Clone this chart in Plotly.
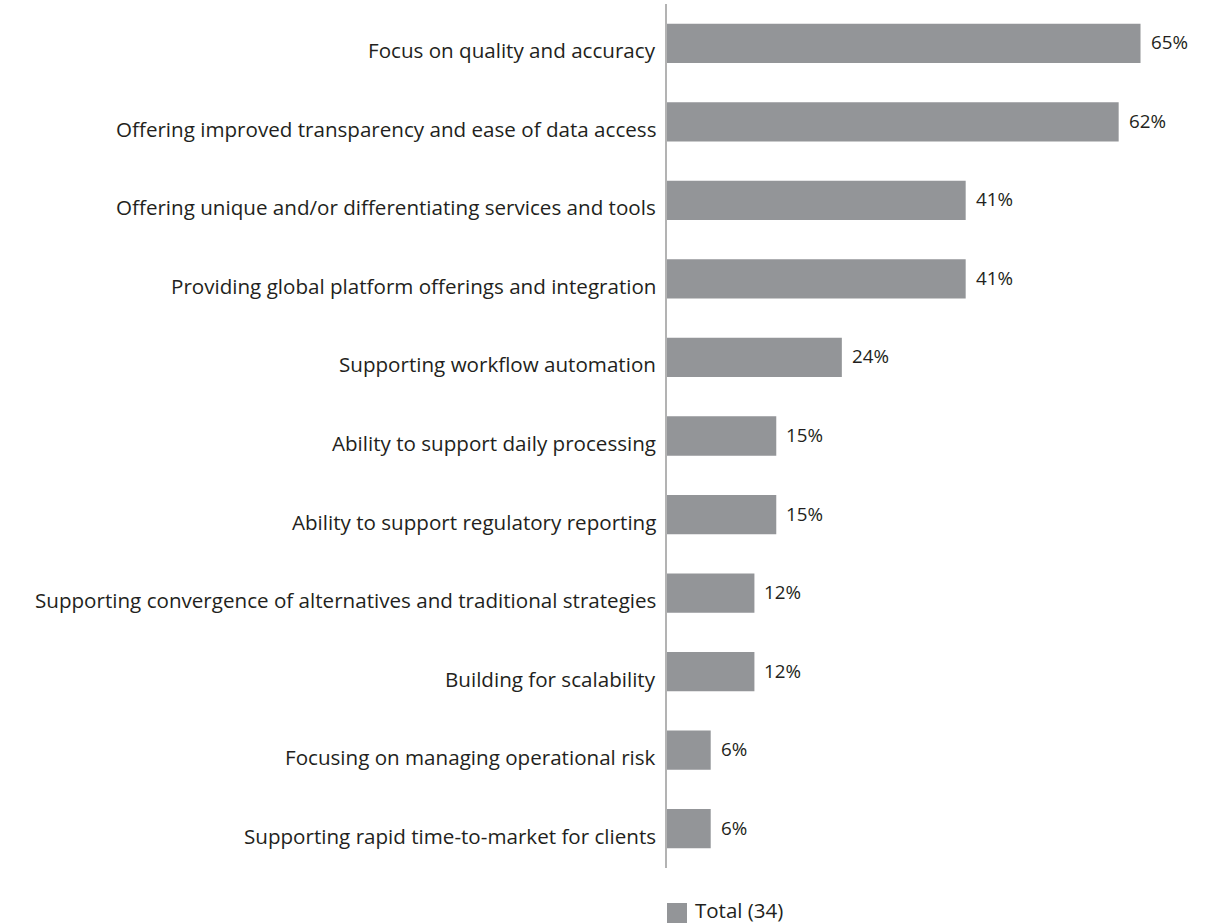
import plotly.graph_objects as go

# Survey responses (share of respondents, %)
categories = [
    "Focus on quality and accuracy",
    "Offering improved transparency and ease of data access",
    "Offering unique and/or differentiating services and tools",
    "Providing global platform offerings and integration",
    "Supporting workflow automation",
    "Ability to support daily processing",
    "Ability to support regulatory reporting",
    "Supporting convergence of alternatives and traditional strategies",
    "Building for scalability",
    "Focusing on managing operational risk",
    "Supporting rapid time-to-market for clients",
]
values = [65, 62, 41, 41, 24, 15, 15, 12, 12, 6, 6]
series_name = "Total (34)"

BAR_COLOR = "#939598"
TEXT_COLOR = "#231f20"
FONT = "Open Sans, Arial, sans-serif"

W, H = 1209, 924
L, R, T, B = 667, 0, 4, 56


def px_to_paper_x(px):
    return (px - L) / (W - L - R)


def px_to_paper_y(py):
    return (H - B - py) / (H - T - B)


fig = go.Figure()
fig.add_trace(go.Bar(
    x=values,
    y=categories,
    orientation="h",
    marker=dict(color=BAR_COLOR, line=dict(width=0)),
    name=series_name,
    showlegend=False,
    hoverinfo="skip",
))

annotations = []
# category labels, right-aligned against the axis line
for cat in categories:
    annotations.append(dict(
        x=0, xref="paper", y=cat, yref="y",
        text=cat, showarrow=False,
        xanchor="right", yanchor="middle",
        xshift=-9, yshift=-7,
        font=dict(family=FONT, size=20.6, color=TEXT_COLOR),
    ))
# value labels to the right of each bar
for cat, v in zip(categories, values):
    annotations.append(dict(
        x=v, xref="x", y=cat, yref="y",
        text=f"{v}%", showarrow=False,
        xanchor="left", yanchor="middle",
        xshift=8, yshift=1,
        font=dict(family=FONT, size=18.8, color=TEXT_COLOR),
    ))
# legend entry
annotations.append(dict(
    x=px_to_paper_x(694), xref="paper", y=px_to_paper_y(910), yref="paper",
    text=series_name, showarrow=False,
    xanchor="left", yanchor="middle", borderpad=0,
    font=dict(family=FONT, size=20.5, color=TEXT_COLOR),
))

fig.update_layout(
    width=W, height=H,
    margin=dict(l=L, r=R, t=T, b=B, pad=0),
    paper_bgcolor="white", plot_bgcolor="white",
    bargap=0.5,
    showlegend=False,
    xaxis=dict(range=[0, 74.4], visible=False, fixedrange=True),
    yaxis=dict(
        autorange="reversed",
        showticklabels=False,
        showgrid=False,
        zeroline=False,
        ticks="",
        showline=True, linecolor="#b3b3b3", linewidth=2,
        fixedrange=True,
    ),
    annotations=annotations,
    shapes=[dict(
        type="rect", xref="paper", yref="paper",
        x0=px_to_paper_x(667), x1=px_to_paper_x(687),
        y0=px_to_paper_y(923), y1=px_to_paper_y(903),
        fillcolor=BAR_COLOR, line=dict(width=0),
    )],
    font=dict(family=FONT, color=TEXT_COLOR),
)

fig.write_html("out.html", config=dict(displayModeBar=False))
